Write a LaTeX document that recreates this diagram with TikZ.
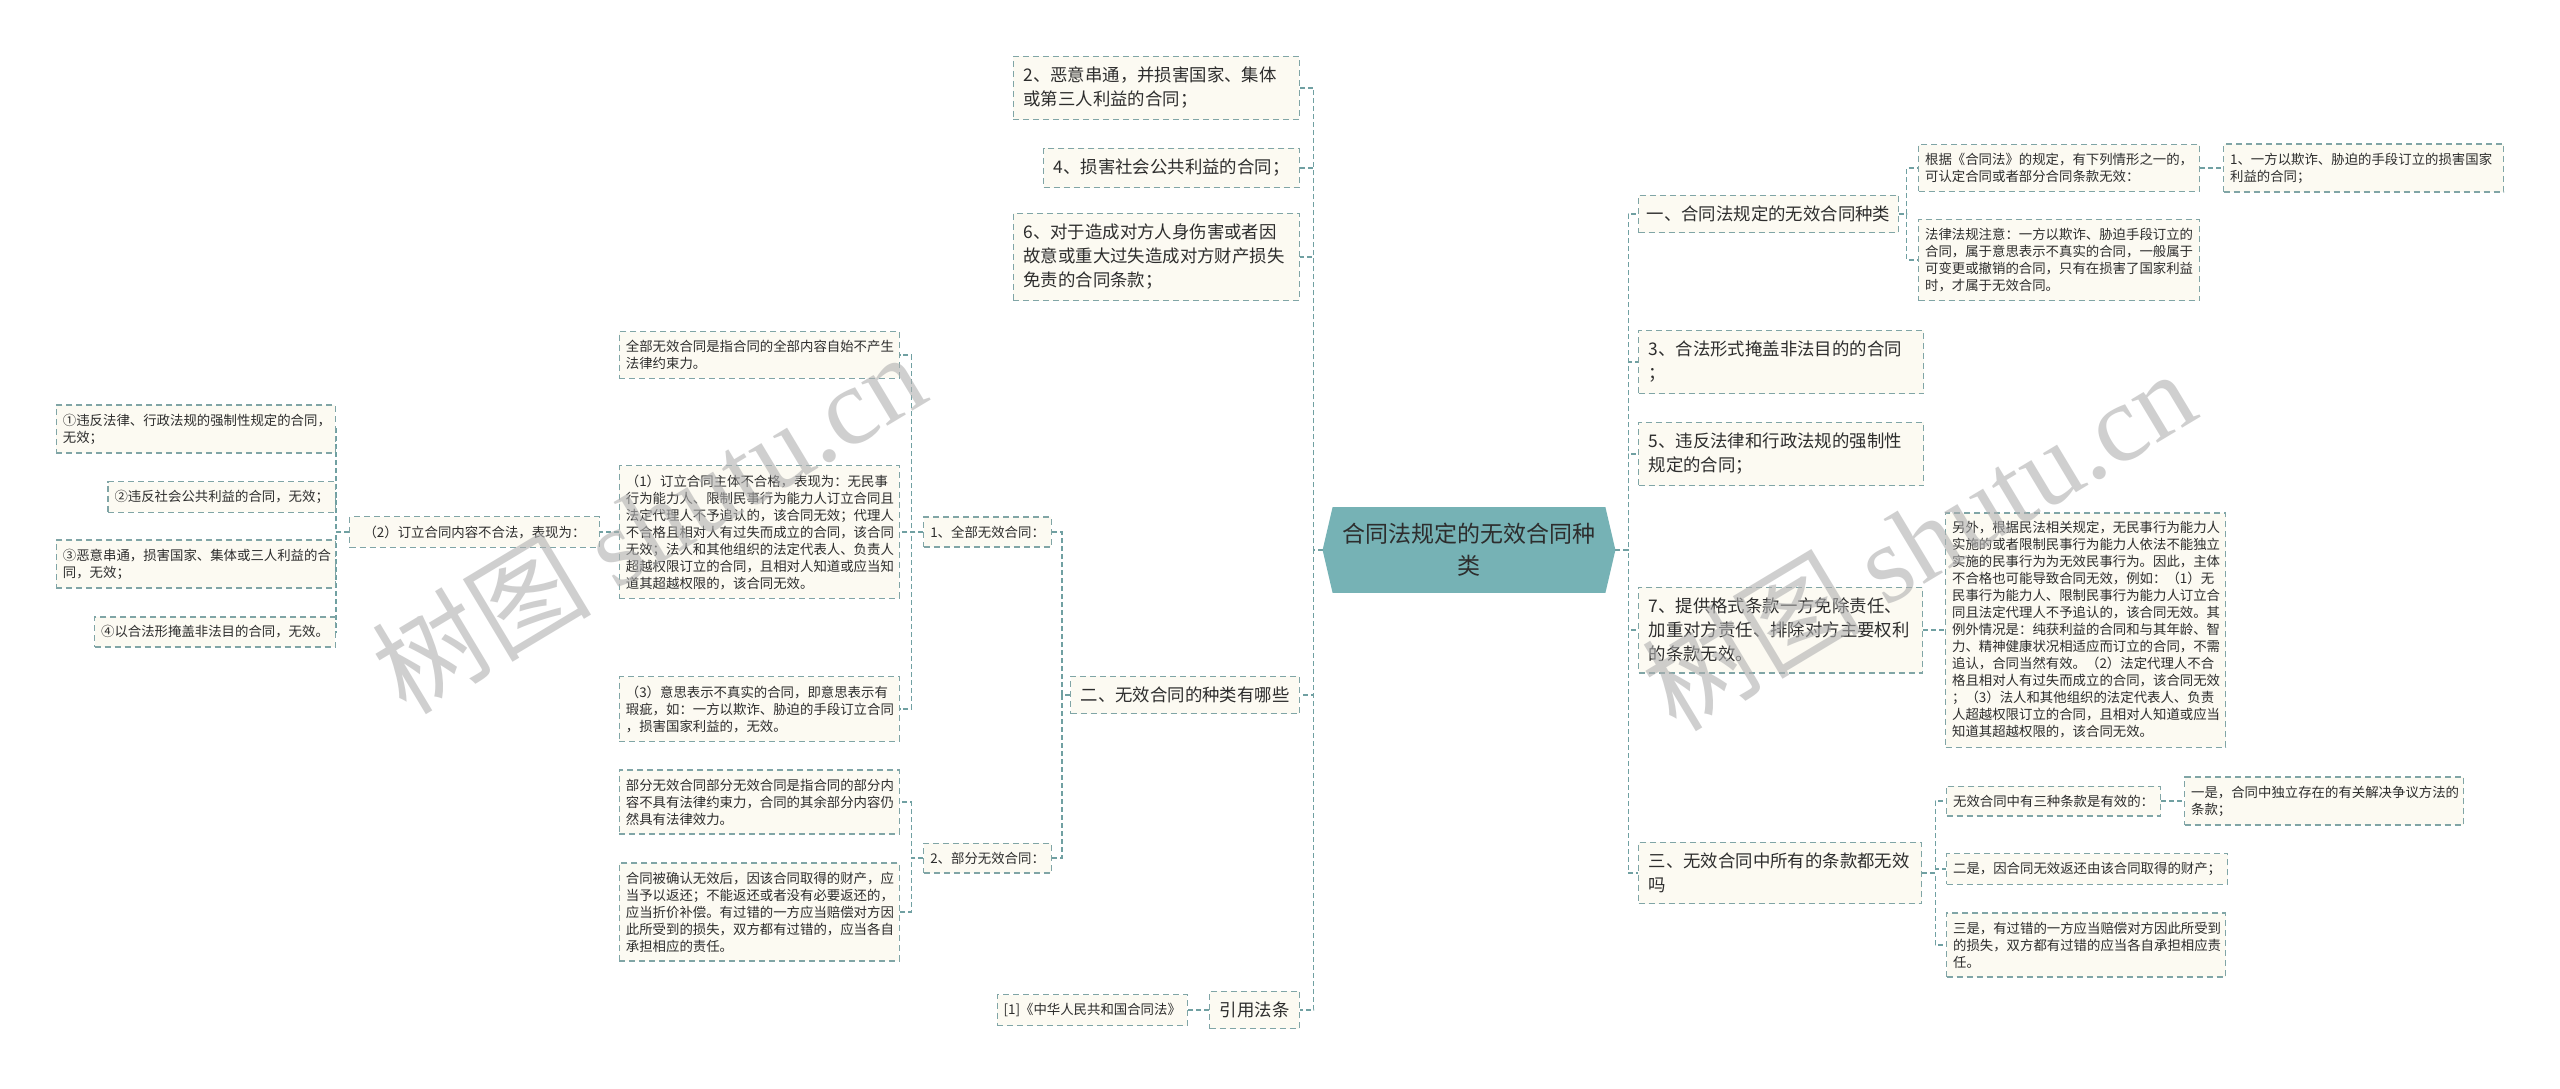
\documentclass[tikz,border=0pt]{standalone}
\usepackage{fontspec}
\setmainfont{Noto Sans CJK SC}
\newfontfamily\wmlatin{Liberation Serif}
\usetikzlibrary{backgrounds}
\definecolor{boxfill}{RGB}{252,250,242}
\definecolor{boxline}{RGB}{128,165,166}
\definecolor{connline}{RGB}{112,160,162}
\definecolor{centerfill}{RGB}{118,178,181}
\definecolor{txt}{RGB}{45,45,45}
\definecolor{wmgray}{RGB}{176,176,176}
\tikzset{
  bx/.style={draw=boxline, line width=0.6pt, dash pattern=on 3pt off 2pt, fill=boxfill,
    text=txt, align=left, inner xsep=5pt, inner ysep=5.4pt,
    font=\fontsize{8.7pt}{12pt}\selectfont},
  sm/.style={bx, inner xsep=3.25pt, inner ysep=4.35pt,
    font=\fontsize{6.7pt}{8.5pt}\selectfont},
  conn/.style={draw=connline, line width=0.6pt, dash pattern=on 2.5pt off 1.5pt},
  wmark/.style={text=wmgray, opacity=0.6, rotate=31, inner sep=0pt}
}
\begin{document}
\begin{tikzpicture}[x=0.5pt,y=-0.5pt]
\useasboundingbox (0,0) rectangle (2560,1088);

% central
\node[minimum width=146pt, minimum height=42.5pt, text width=130pt, align=center,
  font=\fontsize{11.5pt}{16pt}\selectfont, text=txt, inner sep=0pt] (c) at (1469,550)
  {合同法规定的无效合同种\\类};

% left main branch
\node[bx, text width=133pt, anchor=east] (L2) at (1300,88) {2、恶意串通，并损害国家、集体\\或第三人利益的合同；};
\node[bx, anchor=east] (L4) at (1300,168) {4、损害社会公共利益的合同；};
\node[bx, text width=133pt, anchor=east] (L6) at (1300,257) {6、对于造成对方人身伤害或者因\\故意或重大过失造成对方财产损失\\免责的合同条款；};
\node[bx, anchor=east] (L8) at (1300,695) {二、无效合同的种类有哪些};
\node[bx, anchor=east] (L9) at (1300,1010) {引用法条};
\node[sm, anchor=east, minimum width=94.5pt] (L9a) at (1188,1010) {[1]《中华人民共和国合同法》};

\node[sm, anchor=east] (Q1) at (1052,532) {1、全部无效合同：};
\node[sm, anchor=east] (Q2) at (1052,858) {2、部分无效合同：};

\node[sm, text width=133.5pt, anchor=east] (Q1a) at (900,355) {全部无效合同是指合同的全部内容自始不产生\\法律约束力。};
\node[sm, anchor=east, minimum width=119.5pt, inner xsep=7pt] (P) at (600,532) {（2）订立合同内容不合法，表现为：};
\node[sm, text width=133.5pt, anchor=east] (Q1b) at (900,532) {（1）订立合同主体不合格，表现为：无民事\\行为能力人、限制民事行为能力人订立合同且\\法定代理人不予追认的，该合同无效；代理人\\不合格且相对人有过失而成立的合同，该合同\\无效；法人和其他组织的法定代表人、负责人\\超越权限订立的合同，且相对人知道或应当知\\道其超越权限的，该合同无效。};
\node[sm, text width=133.5pt, anchor=east] (Q1c) at (900,709) {（3）意思表示不真实的合同，即意思表示有\\瑕疵，如：一方以欺诈、胁迫的手段订立合同\\，损害国家利益的，无效。};

\node[sm, text width=133pt, anchor=east] (P1) at (336,429) {①违反法律、行政法规的强制性规定的合同，\\无效；};
\node[sm, anchor=east] (P2) at (336,497) {②违反社会公共利益的合同，无效；};
\node[sm, text width=133pt, anchor=east] (P3) at (336,564) {③恶意串通，损害国家、集体或三人利益的合\\同，无效；};
\node[sm, anchor=east] (P4) at (336,632) {④以合法形掩盖非法目的合同，无效。};

\node[sm, text width=133.5pt, anchor=east] (Q2a) at (900,802) {部分无效合同部分无效合同是指合同的部分内\\容不具有法律约束力，合同的其余部分内容仍\\然具有法律效力。};
\node[sm, text width=133.5pt, anchor=east] (Q2b) at (900,912) {合同被确认无效后，因该合同取得的财产，应\\当予以返还；不能返还或者没有必要返还的，\\应当折价补偿。有过错的一方应当赔偿对方因\\此所受到的损失，双方都有过错的，应当各自\\承担相应的责任。};

% right main branch
\node[bx, anchor=west, inner xsep=4pt] (R1) at (1638,214) {一、合同法规定的无效合同种类};
\node[sm, text width=134pt, anchor=west] (R1a) at (1918,168) {根据《合同法》的规定，有下列情形之一的，\\可认定合同或者部分合同条款无效：};
\node[sm, text width=133.5pt, anchor=west] (R1a1) at (2223,168) {1、一方以欺诈、胁迫的手段订立的损害国家\\利益的合同；};
\node[sm, text width=134pt, anchor=west] (R1b) at (1918,260) {法律法规注意：一方以欺诈、胁迫手段订立的\\合同，属于意思表示不真实的合同，一般属于\\可变更或撤销的合同，只有在损害了国家利益\\时，才属于无效合同。};

\node[bx, text width=132.5pt, anchor=west] (R3) at (1638,362) {3、合法形式掩盖非法目的的合同\\；};
\node[bx, text width=132.5pt, anchor=west] (R5) at (1638,454) {5、违反法律和行政法规的强制性\\规定的合同；};
\node[bx, text width=132pt, anchor=west] (R7) at (1638,630) {7、提供格式条款一方免除责任、\\加重对方责任、排除对方主要权利\\的条款无效。};
\node[sm, text width=133.5pt, anchor=west] (R7a) at (1945,630) {另外，根据民法相关规定，无民事行为能力人\\实施的或者限制民事行为能力人依法不能独立\\实施的民事行为为无效民事行为。因此，主体\\不合格也可能导致合同无效，例如：（1）无\\民事行为能力人、限制民事行为能力人订立合\\同且法定代理人不予追认的，该合同无效。其\\例外情况是：纯获利益的合同和与其年龄、智\\力、精神健康状况相适应而订立的合同，不需\\追认，合同当然有效。（2）法定代理人不合\\格且相对人有过失而成立的合同，该合同无效\\；（3）法人和其他组织的法定代表人、负责\\人超越权限订立的合同，且相对人知道或应当\\知道其超越权限的，该合同无效。};

\node[bx, text width=131.5pt, anchor=west] (R9) at (1638,873) {三、无效合同中所有的条款都无效\\吗};
\node[sm, anchor=west] (R9a) at (1946,801) {无效合同中有三种条款是有效的：};
\node[sm, text width=133pt, anchor=west] (R9a1) at (2184,801) {一是，合同中独立存在的有关解决争议方法的\\条款；};
\node[sm, anchor=west] (R9b) at (1946,869) {二是，因合同无效返还由该合同取得的财产；};
\node[sm, text width=133pt, anchor=west] (R9c) at (1946,945) {三是，有过错的一方应当赔偿对方因此所受到\\的损失，双方都有过错的应当各自承担相应责\\任。};

\begin{scope}[on background layer]
  \fill[white] (0,0) rectangle (2560,1088);
  \fill[centerfill] (c.west) -- ([xshift=5pt]c.north west) -- ([xshift=-5pt]c.north east)
    -- (c.east) -- ([xshift=-5pt]c.south east) -- ([xshift=5pt]c.south west) -- cycle;
  \foreach \n in {L2,L4,L6,L8,L9} \draw[conn] (c.west) -- ++(-9,0) |- (\n.east);
  \foreach \n in {R1,R3,R5,R7,R9} \draw[conn] (c.east) -- ++(13,0) |- (\n.west);
  \draw[conn] (L9.west) -- (L9a.east);
  \foreach \n in {Q1,Q2} \draw[conn] (L8.west) -- ++(-8,0) |- (\n.east);
  \foreach \n in {Q1a,Q1b,Q1c,P} \draw[conn] (Q1.west) -- ++(-12,0) |- (\n.east);
  \foreach \n in {Q2a,Q2b} \draw[conn] (Q2.west) -- ++(-12,0) |- (\n.east);
  \foreach \n in {P1,P2,P3,P4} \draw[conn] (P.west) -- ++(-13,0) |- (\n.east);
  \foreach \n in {R1a,R1b} \draw[conn] (R1.east) -- ++(8,0) |- (\n.west);
  \draw[conn] (R1a.east) -- (R1a1.west);
  \draw[conn] (R7.east) -- (R7a.west);
  \foreach \n in {R9a,R9b,R9c} \draw[conn] (R9.east) -- ++(13,0) |- (\n.west);
  \draw[conn] (R9a.east) -- (R9a1.west);
\end{scope}

% watermark
\node[wmark, font=\fontsize{55pt}{55pt}\selectfont] (wm1) at (648,522) {树图 {\wmlatin shutu.cn}};
\node[wmark, font=\fontsize{55pt}{55pt}\selectfont] (wm2) at (1918,539) {树图 {\wmlatin shutu.cn}};
\end{tikzpicture}
\end{document}
